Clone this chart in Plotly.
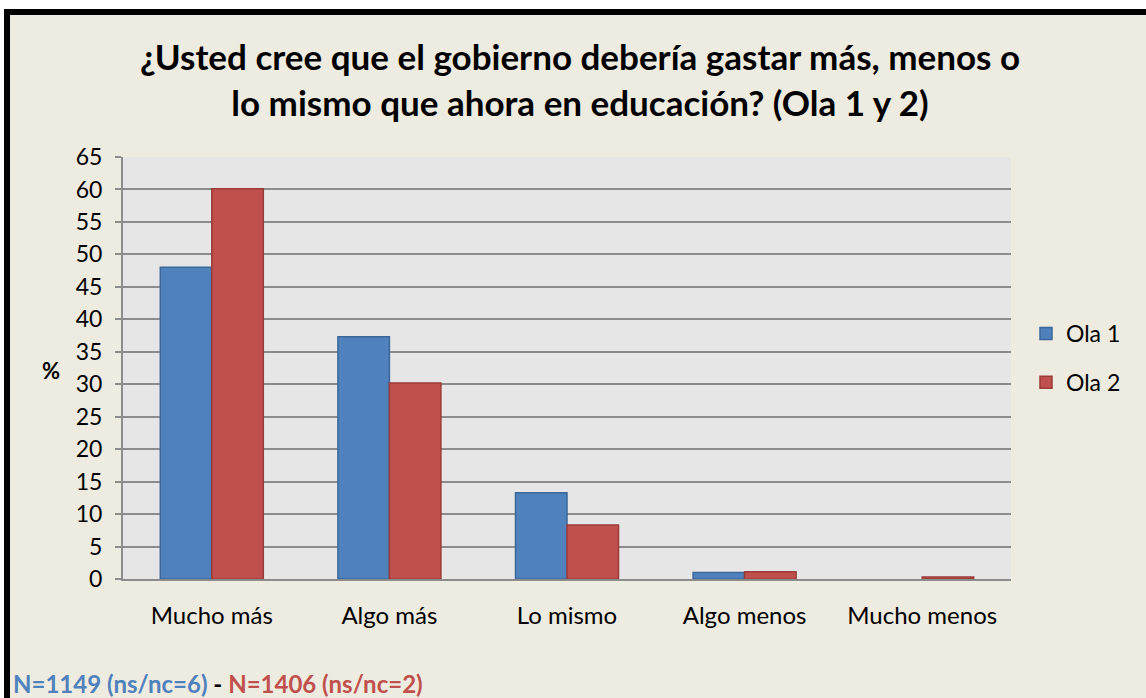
import plotly.graph_objects as go

categories = ["Mucho más", "Algo más", "Lo mismo", "Algo menos", "Mucho menos"]
ola1 = [48.0, 37.3, 13.3, 1.0, 0.0]
ola2 = [60.1, 30.2, 8.3, 1.1, 0.3]
y_ticks = list(range(0, 70, 5))

W, H = 1146, 698
L, R, T, B = 123, 135, 157, 119
pw, ph = W - L - R, H - T - B

def px(x):
    return (x - L) / pw

def py(y):
    return (H - B - y) / ph

FONT = "Lato"

def outline(values):
    return [1.5 if v > 0 else 0 for v in values]

fig = go.Figure()
fig.add_trace(go.Bar(x=categories, y=ola1, name="Ola 1", legendgroup="a",
                     marker=dict(color="#4F81BD", line=dict(color="#3C679A", width=outline(ola1)))))
fig.add_trace(go.Bar(x=categories, y=ola2, name="Ola 2", legendgroup="b",
                     marker=dict(color="#C0504D", line=dict(color="#9B3B38", width=outline(ola2)))))

fig.update_layout(
    width=W, height=H,
    margin=dict(l=L, r=R, t=T, b=B, autoexpand=False),
    paper_bgcolor="#EEEBE0",
    plot_bgcolor="#E6E6E6",
    font=dict(family=FONT, size=23, color="#000000"),
    bargap=0.42, bargroupgap=0,
    title=dict(text="<b>¿Usted cree que el gobierno debería gastar más, menos o<br>lo mismo que ahora en educación? (Ola 1 y 2)</b>",
               x=580 / W, xref="container", xanchor="center", y=1 - 70 / H, yanchor="middle",
               font=dict(family=FONT, size=35)),
    legend=dict(xref="container", yref="container", x=1026 / W, y=1 - 358 / H,
                xanchor="left", yanchor="middle",
                font=dict(size=23), tracegroupgap=16, bgcolor="rgba(0,0,0,0)"),
    xaxis=dict(showgrid=False, showline=True, linecolor="#8C8C8C", linewidth=2,
               ticks="", tickfont=dict(size=24), ticklabelstandoff=14),
    yaxis=dict(range=[0, 65], tickvals=y_ticks, showgrid=True, gridcolor="#8C8C8C", gridwidth=2,
               showline=True, linecolor="#8C8C8C", linewidth=2, ticks="outside", ticklen=6,
               tickcolor="#8C8C8C", tickwidth=2, tickfont=dict(size=23), zeroline=False,
               ticklabelstandoff=8),
    showlegend=True,
)

fig.add_annotation(text="<b>%</b>", xref="paper", yref="paper", x=px(51), y=py(370),
                   showarrow=False, font=dict(size=22), xanchor="center", yanchor="middle")
fig.add_annotation(text="<b><span style='color:#4F81BD'>N=1149 (ns/nc=6)</span> - <span style='color:#C0504D'>N=1406 (ns/nc=2)</span></b>",
                   xref="paper", yref="paper", x=px(11), y=py(683), showarrow=False,
                   xanchor="left", yanchor="middle", font=dict(size=24, color="#000000"))

# outer white strips and black frame lines
fig.add_shape(type="rect", xref="paper", yref="paper", x0=px(0), x1=px(W), y0=py(9), y1=py(0),
              fillcolor="white", line_width=0, layer="above")
fig.add_shape(type="rect", xref="paper", yref="paper", x0=px(0), x1=px(4), y0=py(H), y1=py(0),
              fillcolor="white", line_width=0, layer="above")
fig.add_shape(type="rect", xref="paper", yref="paper", x0=px(4), x1=px(W), y0=py(15), y1=py(9),
              fillcolor="black", line_width=0, layer="above")
fig.add_shape(type="rect", xref="paper", yref="paper", x0=px(4), x1=px(10), y0=py(H), y1=py(9),
              fillcolor="black", line_width=0, layer="above")

fig.write_html("out.html", config={"displayModeBar": False},
               post_script="document.body.style.margin='0';document.body.style.overflow='hidden';")
